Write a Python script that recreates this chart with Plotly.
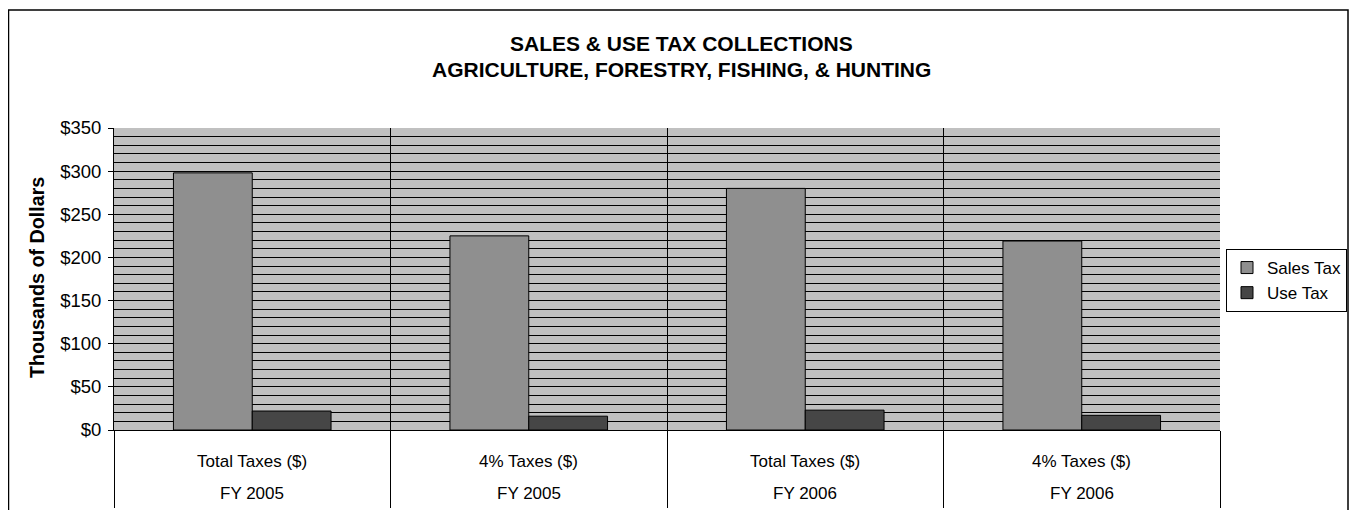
import plotly.graph_objects as go

categories = ["Total Taxes ($)|FY 2005", "4% Taxes ($)|FY 2005", "Total Taxes ($)|FY 2006", "4% Taxes ($)|FY 2006"]
tax_labels = ["Total Taxes ($)", "4% Taxes ($)", "Total Taxes ($)", "4% Taxes ($)"]
year_labels = ["FY 2005", "FY 2005", "FY 2006", "FY 2006"]
sales_tax = [298, 225, 280, 219]
use_tax = [22, 16, 23, 17]
y_ticks = [0, 50, 100, 150, 200, 250, 300, 350]
y_tick_text = ["$0", "$50", "$100", "$150", "$200", "$250", "$300", "$350"]

FONT = "Liberation Sans, Arial, sans-serif"

fig = go.Figure()
fig.add_trace(go.Bar(x=categories, y=sales_tax, name="Sales Tax",
                     marker=dict(color="#8f8f8f", line=dict(color="#000000", width=1))))
fig.add_trace(go.Bar(x=categories, y=use_tax, name="Use Tax",
                     marker=dict(color="#464646", line=dict(color="#000000", width=1))))

# page has an 8px body margin: work in page coordinates and shift; keep figure inside viewport
OFF = 8
W, H = 1357 - 2 * OFF, 518 - 2 * OFF
L, R, T, B = 114 - OFF, 1220 - OFF, 128 - OFF, 430 - OFF
pw, ph = R - L, B - T

def px_x(x):
    return (x - OFF - L) / pw

def px_y(y):
    return (B - (y - OFF)) / ph

annotations = []
for c, t, yl in zip(categories, tax_labels, year_labels):
    annotations.append(dict(x=c, xref="x", y=px_y(461), yref="paper", text=t, showarrow=False,
                            font=dict(family=FONT, size=17, color="#000"), xanchor="center", yanchor="middle"))
    annotations.append(dict(x=c, xref="x", y=px_y(493), yref="paper", text=yl, showarrow=False,
                            font=dict(family=FONT, size=17, color="#000"), xanchor="center", yanchor="middle"))
annotations.append(dict(x=px_x(681), xref="paper", y=px_y(43), yref="paper",
                        text="<b>SALES & USE TAX COLLECTIONS</b>", showarrow=False,
                        font=dict(family=FONT, size=21, color="#000"), xanchor="center", yanchor="middle"))
annotations.append(dict(x=px_x(681), xref="paper", y=px_y(70), yref="paper",
                        text="<b>AGRICULTURE, FORESTRY, FISHING, & HUNTING</b>", showarrow=False,
                        font=dict(family=FONT, size=21, color="#000"), xanchor="center", yanchor="middle"))
annotations.append(dict(x=px_x(37), xref="paper", y=px_y(278), yref="paper",
                        text="<b>Thousands of Dollars</b>", showarrow=False, textangle=-90,
                        font=dict(family=FONT, size=19.7, color="#000"), xanchor="center", yanchor="middle"))

shapes = [dict(type="rect", xref="paper", yref="paper",
               x0=px_x(8.5), x1=px_x(1348), y0=px_y(530), y1=px_y(10),
               line=dict(color="#000", width=1.5), fillcolor="rgba(0,0,0,0)", layer="below")]

fig.update_layout(
    width=W, height=H,
    margin=dict(l=L, r=W - R, t=T, b=H - B, pad=0, autoexpand=False),
    paper_bgcolor="white", plot_bgcolor="#c0c0c0",
    barmode="group", bargap=0.43, bargroupgap=0,
    font=dict(family=FONT, size=17, color="#000"),
    showlegend=True,
    legend=dict(x=px_x(1226), y=px_y(249), xanchor="left", yanchor="top",
                bordercolor="#000", borderwidth=1, bgcolor="white",
                font=dict(family=FONT, size=17), itemwidth=30, tracegroupgap=2),
    xaxis=dict(type="category", tickson="boundaries", showgrid=True, gridcolor="#000", gridwidth=1,
               ticks="outside", ticklen=77, tickcolor="#000", tickwidth=1,
               showticklabels=False, showline=True, linecolor="#000", linewidth=1, mirror=False,
               zeroline=False, range=[-0.5, 3.5]),
    yaxis=dict(range=[0, 350], tickvals=y_ticks, ticktext=y_tick_text,
               ticks="outside", ticklen=5, tickcolor="#000",
               showline=True, linecolor="#000", linewidth=1,
               showgrid=True, gridcolor="#000", gridwidth=1,
               minor=dict(dtick=10, showgrid=True, gridcolor="#000", gridwidth=1),
               zeroline=False, ticklabelstandoff=3,
               tickfont=dict(family=FONT, size=18.5)),
    annotations=annotations,
    shapes=shapes,
)

fig.write_html("out.html")
